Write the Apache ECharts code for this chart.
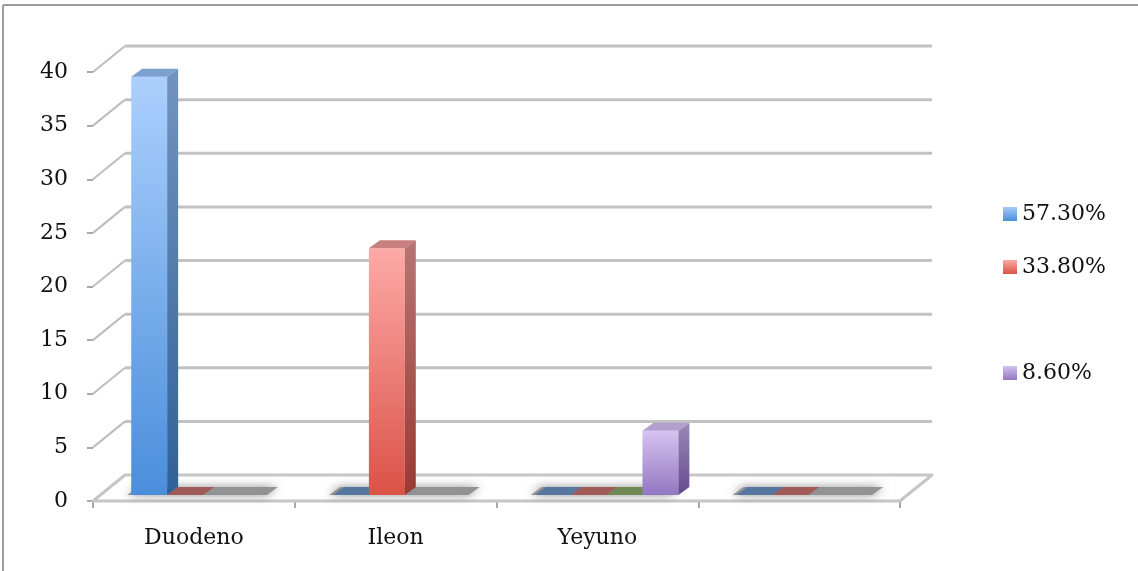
<!DOCTYPE html>
<html>
<head>
<meta charset="utf-8">
<script src="https://cdn.jsdelivr.net/npm/echarts@6/dist/echarts.min.js"></script>
<style>
  html, body { margin: 0; padding: 0; background: #ffffff; }
  #chart { width: 1138px; height: 571px; }
</style>
</head>
<body>
<div id="chart"></div>
<script>
// Categories and values
const categories = ['Duodeno', 'Ileon', 'Yeyuno', ''];
const yTicks = [0, 5, 10, 15, 20, 25, 30, 35, 40];
const seriesNames = ['57.30%', '33.80%', ' ', '8.60%'];
const blueValues = [39, 0, 0, 0];
const redValues = [0, 23, 0, 0];
const greenValues = [null, null, 0, null];
const purpleValues = [null, null, 6, null];

// Oblique projection of the 3D box
const WALL_DX = 32, WALL_DY = -26;   // offset from front plane to back wall
const Z_FRONT = 0.23;                // depth of the bar front faces
const BAR_DX = 11, BAR_DY = -8;      // bar thickness in depth
const GROUP_OFFSET = 0.153;          // first bar start, fraction of band
const SLOT = 0.178;                  // bar width, fraction of band
const FONT = 'DejaVu Serif';

function vgrad(top, bottom) {
  return new echarts.graphic.LinearGradient(0, 0, 0, 1, [
    { offset: 0, color: top }, { offset: 1, color: bottom }
  ]);
}

const palettes = [
  { front: ['#abd0fd', '#4a8edb'], side: ['#7394bf', '#2f6198'], cap: '#7b9fcf', flat: '#56779f', legend: ['#a6cbf8', '#4a8edb'] },
  { front: ['#fdaaa8', '#da5246'], side: ['#b87574', '#9a3a32'], cap: '#c8807e', flat: '#a05b58', legend: ['#fba9a6', '#da5246'] },
  { front: ['#b7cf8a', '#7e9c47'], side: ['#8ea06a', '#5d7530'], cap: '#98ac72', flat: '#6f8753', legend: ['#b7cf8a', '#7e9c47'] },
  { front: ['#d6c4f0', '#9277c2'], side: ['#9b89b6', '#664a8e'], cap: '#b2a0cf', flat: '#7d69a0', legend: ['#d3c1ee', '#9277c2'] }
];

function makeBar(slot, pal) {
  return function (params, api) {
    const v = api.value(1);
    if (v === null || v === undefined || isNaN(v)) return null;
    const cat = api.value(0);
    const bw = api.size([1, 0])[0];
    const p0 = api.coord([cat, 0]);
    const p1 = api.coord([cat, v]);
    const w = bw * SLOT;
    const x = p0[0] - bw / 2 + bw * GROUP_OFFSET + slot * w + WALL_DX * Z_FRONT;
    const yb = p0[1] + WALL_DY * Z_FRONT;
    const yt = p1[1] + WALL_DY * Z_FRONT;
    const children = [];
    if (v > 0) {
      children.push({
        type: 'rect',
        shape: { x: x, y: yt, width: w, height: yb - yt },
        style: { fill: vgrad(pal.front[0], pal.front[1]) }
      });
      children.push({
        type: 'polygon',
        shape: { points: [[x + w, yt], [x + w + BAR_DX, yt + BAR_DY], [x + w + BAR_DX, yb + BAR_DY], [x + w, yb]] },
        style: { fill: vgrad(pal.side[0], pal.side[1]) }
      });
    }
    children.push({
      type: 'polygon',
      shape: { points: [[x, yt], [x + BAR_DX, yt + BAR_DY], [x + w + BAR_DX, yt + BAR_DY], [x + w, yt]] },
      style: { fill: v > 0 ? pal.cap : pal.flat }
    });
    return { type: 'group', children: children };
  };
}

// Back wall gridlines, side connectors and the floor
function renderWalls(params, api) {
  const cs = params.coordSys;
  const v = api.value(1);
  const p = api.coord([0, v]);
  const y = p[1];
  const x0 = cs.x, x1 = cs.x + cs.width;
  const children = [];
  if (v === 0) {
    children.push({
      type: 'polygon',
      shape: { points: [[x0, y], [x1, y], [x1 + WALL_DX, y + WALL_DY], [x0 + WALL_DX, y + WALL_DY]] },
      style: { fill: '#ffffff', stroke: '#c6c6c6', lineWidth: 3, lineJoin: 'round' }
    });
  } else {
    children.push({
      type: 'line',
      shape: { x1: x0 + WALL_DX, y1: y + WALL_DY, x2: x1 + WALL_DX, y2: y + WALL_DY },
      style: { stroke: '#c2c2c2', lineWidth: 3 }
    });
    children.push({
      type: 'line',
      shape: { x1: x0, y1: y, x2: x0 + WALL_DX, y2: y + WALL_DY },
      style: { stroke: '#bdbdbd', lineWidth: 2 }
    });
  }
  return { type: 'group', children: children };
}

// Soft shadow under each category group on the floor
function renderShadow(params, api) {
  const cat = api.value(0);
  const bw = api.size([1, 0])[0];
  const p0 = api.coord([cat, 0]);
  const w = bw * SLOT;
  const xs = p0[0] - bw / 2 + bw * GROUP_OFFSET + WALL_DX * Z_FRONT - 4;
  const xe = xs + 4 * w - 4;
  const yb = p0[1] + WALL_DY * Z_FRONT;
  return {
    type: 'polygon',
    shape: { points: [[xs, yb], [xs + BAR_DX, yb + BAR_DY], [xe + BAR_DX, yb + BAR_DY], [xe, yb]] },
    style: { fill: '#8f8f8f', shadowBlur: 10, shadowColor: 'rgba(120,120,120,0.9)', opacity: 0.95 }
  };
}

const valueSets = [blueValues, redValues, greenValues, purpleValues];

const barSeries = valueSets.map(function (vals, i) {
  return {
    type: 'custom',
    name: seriesNames[i],
    renderItem: makeBar(i, palettes[i]),
    encode: { x: 0, y: 1 },
    data: vals.map(function (v, c) { return [c, v]; }),
    itemStyle: { color: vgrad(palettes[i].legend[0], palettes[i].legend[1]) },
    z: 5,
    silent: true
  };
});

const chart = echarts.init(document.getElementById('chart'), null, { renderer: 'canvas' });

chart.setOption({
  animation: false,
  backgroundColor: '#ffffff',
  grid: { left: 93, top: 72, width: 807, height: 429 },
  xAxis: {
    type: 'category',
    data: categories,
    boundaryGap: true,
    axisLine: { show: false },
    axisTick: { show: true, length: 7, lineStyle: { color: '#8c8c8c', width: 1.5 } },
    axisLabel: { fontFamily: FONT, fontSize: 22, color: '#111111', margin: 26 },
    splitLine: { show: false }
  },
  yAxis: {
    type: 'value',
    min: 0,
    max: 40,
    interval: 5,
    axisLine: { show: false },
    axisTick: { show: true, length: 6, lineStyle: { color: '#8c8c8c', width: 1.5 } },
    axisLabel: { fontFamily: FONT, fontSize: 22, color: '#111111', margin: 25 },
    splitLine: { show: false }
  },
  legend: {
    orient: 'vertical',
    left: 1003,
    top: 201,
    padding: 0,
    icon: 'rect',
    itemWidth: 14,
    itemHeight: 14,
    itemGap: 27,
    textStyle: { fontFamily: FONT, fontSize: 22, color: '#111111', lineHeight: 26 },
    selectedMode: false,
    data: [
      { name: seriesNames[0] },
      { name: seriesNames[1] },
      { name: seriesNames[2], icon: 'none' },
      { name: seriesNames[3] }
    ]
  },
  graphic: [
    { type: 'line', shape: { x1: 3, y1: 5, x2: 1138, y2: 5 }, style: { stroke: '#9c9c9c', lineWidth: 2 } },
    { type: 'line', shape: { x1: 3, y1: 5, x2: 3, y2: 571 }, style: { stroke: '#9c9c9c', lineWidth: 2 } }
  ],
  series: [
    {
      type: 'custom',
      name: 'walls',
      renderItem: renderWalls,
      encode: { x: 0, y: 1 },
      data: yTicks.map(function (v) { return [0, v]; }),
      z: 1,
      silent: true
    },
    {
      type: 'custom',
      name: 'shadow',
      renderItem: renderShadow,
      encode: { x: 0, y: 1 },
      data: categories.map(function (c, i) { return [i, 0]; }),
      z: 2,
      silent: true
    }
  ].concat(barSeries)
});
</script>
</body>
</html>
